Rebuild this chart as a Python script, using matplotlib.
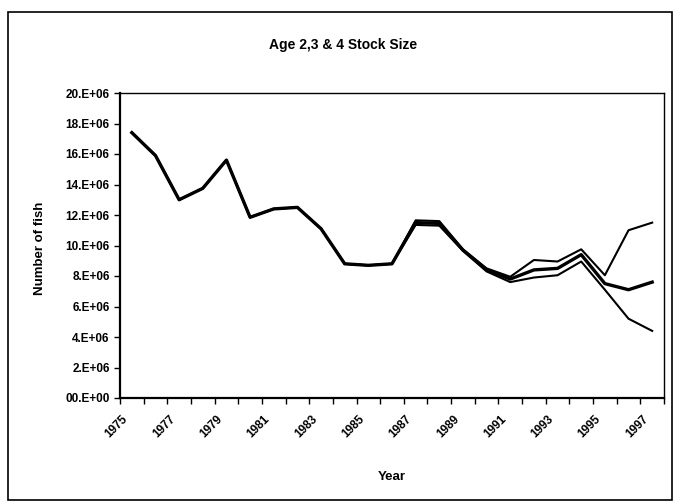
import matplotlib.pyplot as plt
from matplotlib.patches import Rectangle
from matplotlib.ticker import FixedLocator
from matplotlib.transforms import ScaledTranslation

# data (millions of fish)
years = list(range(1975, 1998))
shared = [17.4, 15.9, 13.0, 13.75, 15.6, 11.85, 12.4, 12.5, 11.1, 8.8, 8.7, 8.8]
stock_high = shared + [11.65, 11.6, 9.75, 8.5, 7.95, 9.05, 8.95, 9.75, 8.05, 11.0, 11.5]
stock_mid = shared + [11.5, 11.45, 9.7, 8.4, 7.8, 8.4, 8.5, 9.4, 7.5, 7.1, 7.6]
stock_low = shared + [11.35, 11.3, 9.65, 8.3, 7.6, 7.9, 8.05, 8.95, 7.1, 5.2, 4.4]

yticks = [0, 2, 4, 6, 8, 10, 12, 14, 16, 18, 20]
ytick_labels = ["00.E+00", "2.E+06", "4.E+06", "6.E+06", "8.E+06", "10.E+06",
                "12.E+06", "14.E+06", "16.E+06", "18.E+06", "20.E+06"]

plt.rcParams["font.family"] = ["Liberation Sans", "DejaVu Sans"]

fig = plt.figure(figsize=(6.78, 5.03), dpi=100)
fig.patches.append(Rectangle((8 / 678, 3 / 503), 664 / 678, 488 / 503,
                             transform=fig.transFigure, fill=False,
                             edgecolor="black", linewidth=1.2))

ax = fig.add_axes([120 / 678, 1 - 398 / 503, 544 / 678, 305 / 503])

x = list(range(len(years)))
ax.plot(x, stock_low, color="black", linewidth=1.5)
ax.plot(x, stock_high, color="black", linewidth=1.5)
ax.plot(x, stock_mid, color="black", linewidth=2.4)

ax.set_xlim(-0.5, len(years) - 0.5)
ax.set_ylim(0, 20)

# category labels on every other year, tick marks at category boundaries
ax.set_xticks(x[::2])
ax.set_xticklabels([str(y) for y in years[::2]], rotation=45, ha="right",
                   rotation_mode="anchor", fontsize=8.5, fontweight="bold")
ax.tick_params(axis="x", which="major", length=0, pad=11)
shift = ScaledTranslation(-10 / 100, 0, fig.dpi_scale_trans)
for lab in ax.get_xticklabels():
    lab.set_transform(lab.get_transform() + shift)
ax.xaxis.set_minor_locator(FixedLocator([i - 0.5 for i in range(len(years) + 1)]))
ax.tick_params(axis="x", which="minor", length=4, direction="out", width=1)

ax.set_yticks(yticks)
ax.set_yticklabels(ytick_labels, fontsize=8.5, fontweight="bold")
ax.tick_params(axis="y", length=4, direction="out", width=1)

for side in ["left", "bottom"]:
    ax.spines[side].set_linewidth(1.6)
for side in ["top", "right"]:
    ax.spines[side].set_linewidth(1.0)

fig.text(392 / 678, 1 - 477 / 503, "Year", ha="center", va="center",
         fontsize=9.5, fontweight="bold")
fig.text(40 / 678, 1 - 248 / 503, "Number of fish", ha="center", va="center",
         rotation=90, fontsize=9.5, fontweight="bold")
fig.text(343 / 678, 1 - 45 / 503, "Age 2,3 & 4 Stock Size", ha="center",
         va="center", fontsize=10, fontweight="bold")

fig.savefig("out.png", dpi=100)
